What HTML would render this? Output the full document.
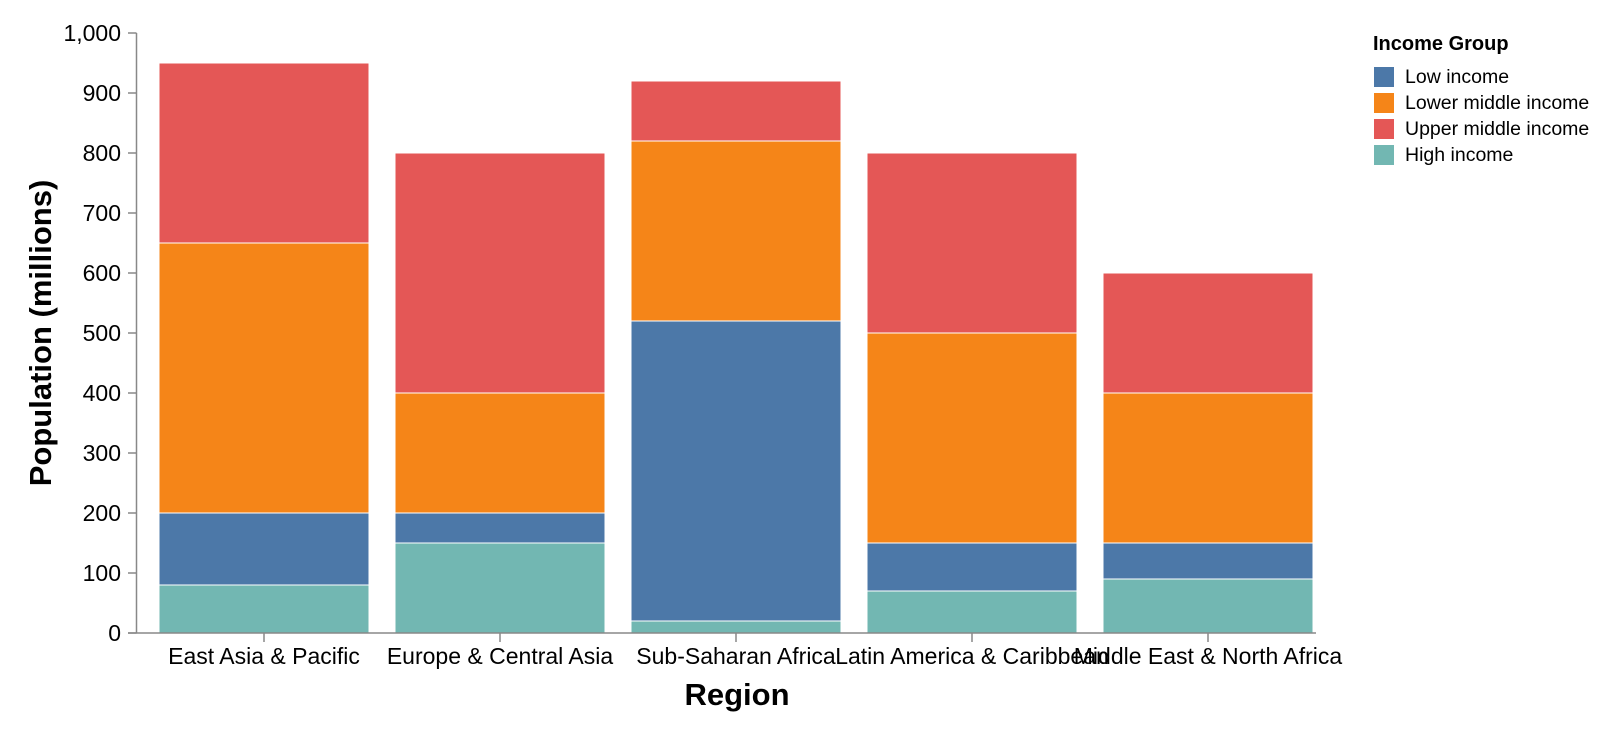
<!DOCTYPE html>
<html><head><meta charset="utf-8"><style>
html,body{margin:0;padding:0;background:#fff;}
svg text{font-family:"Liberation Sans",Arial,sans-serif;}
</style></head><body>
<svg id="chart" width="1614" height="728"></svg>
<script>
const regions=["East Asia & Pacific","Europe & Central Asia","Sub-Saharan Africa","Latin America & Caribbean","Middle East & North Africa"];
const groups=["High income","Low income","Lower middle income","Upper middle income"];
const highIncome=[80,150,20,70,90];
const lowIncome=[120,50,500,80,60];
const lowerMiddle=[450,200,300,350,250];
const upperMiddle=[300,400,100,300,200];
const yTicks=[0,100,200,300,400,500,600,700,800,900,1000];
const legendOrder=["Low income","Lower middle income","Upper middle income","High income"];
const colors={"Low income":"#4c78a8","Lower middle income":"#f58518","Upper middle income":"#e45756","High income":"#72b7b2"};
const series=[highIncome,lowIncome,lowerMiddle,upperMiddle];

const NS="http://www.w3.org/2000/svg";
const svg=document.getElementById('chart');
function mk(t,a,p){const e=document.createElementNS(NS,t);for(const k in a)e.setAttribute(k,a[k]);(p||svg).appendChild(e);return e;}
const y0=633,y1=33,ymax=1000;
const y=v=>y0-(v/ymax)*(y0-y1);
const step=236,bandStart=136,bw=210,off=23;
const x=i=>bandStart+i*step+off;

regions.forEach((r,i)=>{
  let acc=0;
  series.forEach((s,k)=>{
    const v=s[i];
    const rc=mk('rect',{x:x(i),y:y(acc+v),width:bw,height:y(acc)-y(acc+v),fill:colors[groups[k]],stroke:'#fff','stroke-width':1});
    
    
    acc+=v;
  });
});
const ya=mk('g',{});


mk('line',{x1:136.5,x2:136.5,y1:y1,y2:y0,stroke:'#888','stroke-width':1.5},ya);
yTicks.forEach(t=>{
  mk('line',{x1:128,x2:136.5,y1:y(t),y2:y(t),stroke:'#888','stroke-width':1.5},ya);
  const tx=mk('text',{x:121,y:y(t)+8,'text-anchor':'end','font-size':23,fill:'#000'},ya);
  tx.textContent=t.toLocaleString('en-US');
  
  
});
const yt=mk('text',{transform:'translate(51,333) rotate(-90)','text-anchor':'middle','font-size':31,'font-weight':'bold'});
yt.textContent='Population (millions)';


const xa=mk('g',{});


mk('line',{x1:128,x2:1316,y1:633,y2:633,stroke:'#888','stroke-width':1.5},xa);
regions.forEach((r,i)=>{
  const cx=x(i)+bw/2;
  mk('line',{x1:cx,x2:cx,y1:633,y2:642,stroke:'#888','stroke-width':1.5},xa);
  const tx=mk('text',{x:cx,y:664,'text-anchor':'middle','font-size':23},xa);
  tx.textContent=r;
  
  
});
const xt=mk('text',{x:737,y:705,'text-anchor':'middle','font-size':31,'font-weight':'bold'});
xt.textContent='Region';


const lg=mk('g',{});


const lt=mk('text',{x:1373,y:50,'font-size':20,'font-weight':'bold'},lg);
lt.textContent='Income Group';


legendOrder.forEach((g,i)=>{
  const ey=67+i*26;
  const r=mk('rect',{x:1374,y:ey,width:20,height:20,fill:colors[g]},lg);
  
  
  const t=mk('text',{x:1405,y:ey+16,'font-size':19.5},lg);
  t.textContent=g;
  
  
});
</script>
</body></html>
